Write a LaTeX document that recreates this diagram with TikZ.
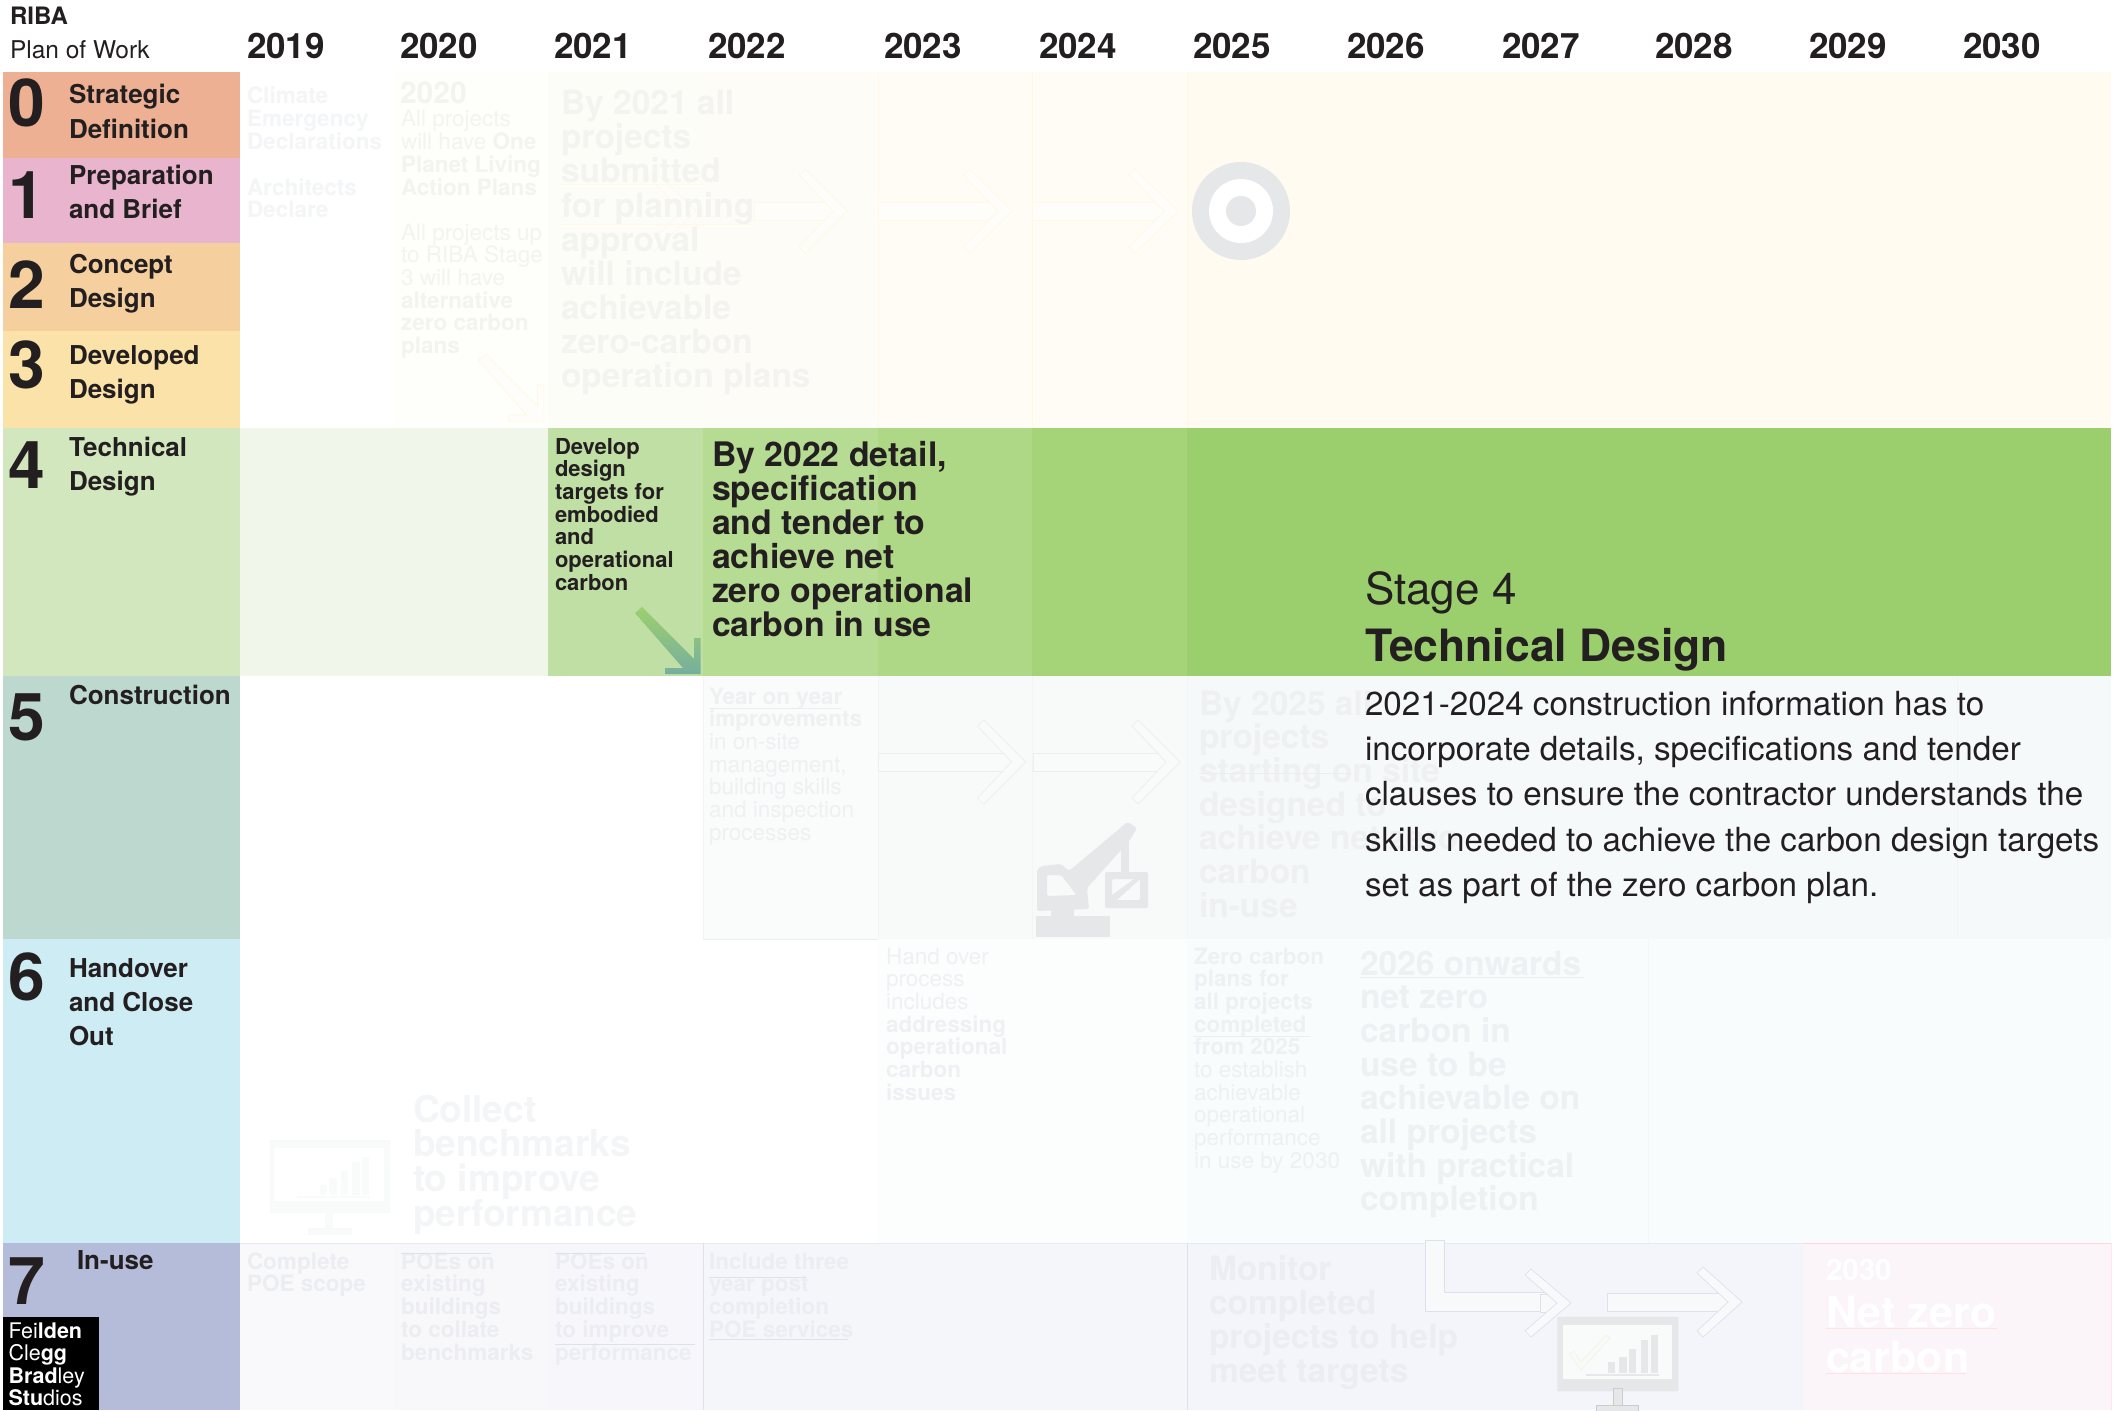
\documentclass[tikz,border=0pt]{standalone}
\usepackage{fontspec}
\setmainfont{TeX Gyre Heros}
\definecolor{ink}{HTML}{231F20}
\definecolor{palea}{HTML}{F4F5F6}
\definecolor{paleb}{HTML}{F3F3F0}
\definecolor{palec}{HTML}{EEF0F1}
\definecolor{paled}{HTML}{EEF1F3}
\definecolor{palee}{HTML}{ECEDF2}
\definecolor{arrowa}{HTML}{FEFDF9}
\definecolor{arrowb}{HTML}{FFF8E4}
\definecolor{arrowc}{HTML}{F9FAFA}
\definecolor{arrowd}{HTML}{EBEEEF}
\definecolor{arrowe}{HTML}{F8F9FB}
\definecolor{arrowf}{HTML}{DDE1EC}
\definecolor{icon}{HTML}{E6E7E9}
\newcommand{\labeltext}[8][]{\node[anchor=base west,inner sep=0pt,outer sep=0pt,text=#7,font=\fontsize{#5}{#6}\selectfont#1] (#2) at (#3,#4) {\vtop{\lineskiplimit=-200pt\let\\\cr\halign{##\hfil\cr#8\crcr}}};}
\newcommand{\band}[5]{\fill[#5] (#1,#2) rectangle (#3,#4);}
\newcommand{\colrule}[4]{\draw[#4,line width=.8pt] (#1,#2) -- (#1,#3);}
\newcommand{\rowrule}[4]{\draw[#4,line width=.8pt] (#1,#3) -- (#2,#3);}
% x0, tip, ymid, half height, dx, fill, line
\newcommand{\chevarrow}[7]{%
\filldraw[fill=#6,draw=#7,line width=.7pt] (#1,#3-9) -- (#2-14,#3-9) -- (#2-14,#3+9) -- (#1,#3+9) -- cycle;
\filldraw[fill=#6,draw=#7,line width=.7pt] (#2,#3) -- (#2-#5,#3-#4) -- (#2-#5-6,#3-#4+6) -- (#2-14,#3) -- (#2-#5-6,#3+#4-6) -- (#2-#5,#3+#4) -- cycle;}
\begin{document}
\begin{tikzpicture}[x=1pt,y=-1pt]
\useasboundingbox (0,0) rectangle (2127,1410);
\fill[white] (0,0) rectangle (2127,1410);
% stage column
\band{3}{72}{240}{158}{fill={rgb,255:red,238;green,176;blue,147}}
\band{3}{158}{240}{243}{fill={rgb,255:red,233;green,180;blue,206}}
\band{3}{243}{240}{331}{fill={rgb,255:red,246;green,207;blue,158}}
\band{3}{331}{240}{428}{fill={rgb,255:red,251;green,226;blue,169}}
\band{3}{428}{240}{676}{fill={rgb,255:red,210;green,231;blue,189}}
\band{3}{676}{240}{939}{fill={rgb,255:red,189;green,216;blue,206}}
\band{3}{939}{240}{1243}{fill={rgb,255:red,206;green,236;blue,244}}
\band{3}{1243}{240}{1410}{fill={rgb,255:red,181;green,188;blue,217}}
% rows 0-3
\band{394}{72}{548}{428}{fill={rgb,255:red,254;green,254;blue,250}}
\band{548}{72}{703}{428}{fill={rgb,255:red,253;green,253;blue,248}}
\band{703}{72}{878}{428}{fill={rgb,255:red,253;green,252;blue,246}}
\band{878}{72}{1187}{428}{fill={rgb,255:red,254;green,252;blue,245}}
\band{1187}{72}{2111}{428}{fill={rgb,255:red,255;green,251;blue,241}}
\colrule{878}{72}{428}{arrowb}
\colrule{1032}{72}{428}{arrowb}
\colrule{1187}{72}{428}{arrowb}
% row 4
\band{240}{428}{548}{676}{fill={rgb,255:red,240;green,246;blue,234}}
\band{548}{428}{703}{676}{fill={rgb,255:red,192;green,223;blue,164}}
\band{703}{428}{878}{676}{fill={rgb,255:red,182;green,219;blue,147}}
\band{878}{428}{1032}{676}{fill={rgb,255:red,175;green,216;blue,134}}
\band{1032}{428}{1187}{676}{fill={rgb,255:red,165;green,211;blue,119}}
\band{1187}{428}{2111}{676}{fill={rgb,255:red,155;green,207;blue,109}}
% row 5
\band{703}{676}{878}{939}{fill={rgb,255:red,250;green,251;blue,251}}
\band{878}{676}{1187}{939}{fill={rgb,255:red,248;green,249;blue,249}}
\band{1187}{676}{2111}{939}{fill={rgb,255:red,246;green,249;blue,249}}
\foreach \c in {703,878,1032,1187,1957}{\colrule{\c}{676}{939}{arrowd!60!white}}
\rowrule{703}{2111}{939}{arrowd}
% row 6
\band{878}{939}{1187}{1243}{fill={rgb,255:red,252;green,254;blue,254}}
\band{1187}{939}{2111}{1243}{fill={rgb,255:red,248;green,252;blue,253}}
\colrule{1648}{939}{1243}{arrowd!50!white}
% row 7
\band{240}{1243}{394}{1410}{fill={rgb,255:red,249;green,249;blue,251}}
\band{394}{1243}{548}{1410}{fill={rgb,255:red,248;green,248;blue,251}}
\band{548}{1243}{703}{1410}{fill={rgb,255:red,247;green,247;blue,251}}
\band{703}{1243}{1187}{1410}{fill={rgb,255:red,245;green,246;blue,250}}
\band{1187}{1243}{1803}{1410}{fill={rgb,255:red,244;green,245;blue,250}}
\band{1803}{1243}{2111}{1410}{fill={rgb,255:red,251;green,244;blue,248}}
\rowrule{240}{1803}{1243}{arrowf!70!white}
\rowrule{1803}{2111}{1243}{pink!60!white}
\colrule{703}{1243}{1410}{arrowf}
\colrule{1187}{1243}{1410}{arrowf}
\colrule{2111}{1243}{1410}{pink!40!white}
% faint arrows rows 0-3
\chevarrow{682}{696}{211}{40}{42}{arrowa}{arrowb}
\chevarrow{754}{847}{211}{42}{42}{arrowa}{arrowb}
\chevarrow{878}{1011.6}{211}{42}{42}{arrowa}{arrowb}
\chevarrow{1032}{1178}{211}{42}{43}{arrowa}{arrowb}
% target
\fill[icon] (1241,211) circle[radius=49];
\fill[white] (1241,211) circle[radius=32];
\fill[icon] (1241,211) circle[radius=15];
% faint diagonal arrow
\filldraw[fill=arrowa,draw=arrowb,line width=.7pt] (486,354) -- (537.5,406) -- (537.5,385) -- (544,385) -- (544,421) -- (508.5,421) -- (508.5,415) -- (526.5,415) -- (478.5,360) -- cycle;
% green arrow
\shade[top color={rgb,255:red,156;green,208;blue,110},bottom color={rgb,255:red,118;green,174;blue,158}] (642,607) -- (694,659) -- (694,638) -- (700.5,638) -- (700.5,674) -- (665,674) -- (665,668) -- (683,668) -- (635,613) -- cycle;
% row 5 arrows
\chevarrow{878}{1025.5}{762}{42}{42}{arrowc}{arrowd}
\chevarrow{1033}{1180}{762}{42}{42}{arrowc}{arrowd}
% crane
\fill[icon] (1036,916) rectangle (1110,937);
\fill[icon] (1051,909) rectangle (1074,917);
\fill[icon,even odd rule,rounded corners=2pt] (1037,870) -- (1041,866) -- (1061,864) -- (1069,871) -- (1127.5,822) -- (1137,828) -- (1130,840) -- (1087,888) -- (1089,909) -- (1037,911) -- cycle (1047,875) -- (1061,875) -- (1076.5,895) -- (1047,896) -- cycle;
\fill[icon] (1121,838) rectangle (1129,873);
\fill[icon,even odd rule,rounded corners=2pt] (1105,872) rectangle (1148,908) (1112,879) rectangle (1140,900);
\fill[icon] (1112,895) -- (1134,879) -- (1140,879) -- (1117,900) -- (1112,900) -- cycle;
% monitor row 6
\fill[arrowc] (270,1140) rectangle (389,1212);
\draw[arrowd!40!white] (270,1140) rectangle (389,1212);
\fill[white] (274,1148) rectangle (384,1201);
\fill[arrowc] (325,1211) rectangle (333,1228);
\fill[arrowc] (308,1228) rectangle (351,1234);
\draw[arrowd!40!white] (308,1228) rectangle (351,1234);
\foreach \a/\b/\t in {320/327/1185,329/337/1178,341/348/1171,352/360/1162,362/369/1157}{\fill[arrowc] (\a,\t) rectangle (\b,1195);}
\fill[arrowc] (297,1196) rectangle (370,1198);
% L arrow and arrow row 7
\filldraw[fill=arrowe,draw=arrowf,line width=.7pt] (1425,1240) -- (1444,1240) -- (1444,1292) -- (1557,1292) -- (1557,1311) -- (1425,1311) -- cycle;
\chevarrow{1540}{1571}{1303}{34}{40}{arrowe}{arrowf}
\chevarrow{1607}{1742}{1302}{35}{39}{arrowe}{arrowf}
% monitor row 7
\filldraw[fill=icon,draw=arrowf,rounded corners=1pt] (1557.5,1317) rectangle (1678,1391);
\fill[arrowc] (1563,1325) rectangle (1672,1379);
\filldraw[fill=icon,draw=gray!40] (1613.5,1388) rectangle (1622,1405);
\filldraw[fill=icon,draw=gray!40] (1596,1405) rectangle (1638,1412);
\foreach \a/\b/\t in {1608/1615/1362,1619/1627/1357,1629/1636/1349,1641/1648/1340,1651/1658/1335}{\fill[icon] (\a,\t) rectangle (\b,1373);}
\fill[icon] (1586,1374) rectangle (1659,1376);
\filldraw[fill={rgb,255:red,248;green,250;blue,245},draw={rgb,255:red,238;green,242;blue,232},line width=.5pt] (1569,1354) -- (1574,1351) -- (1581,1362) -- (1606,1335) -- (1610,1338) -- (1581,1370) -- cycle;
% pale text
\labeltext[\bfseries]{tClimate}{247}{104}{22.5}{22.7}{palea}{Climate\\Emergency\\Declarations}
\labeltext[\bfseries]{tArch}{247}{195}{22.5}{22.7}{palea}{Architects\\Declare}
\labeltext[\bfseries]{t2020a}{400}{104}{30}{30}{paleb}{2020}
\labeltext{t2020b}{401}{127}{22.5}{22.7}{paleb}{All projects\\will have \textbf{One}\\\textbf{Planet Living}\\\textbf{Action Plans}}
\labeltext{t2020c}{401}{240}{22.5}{22.7}{paleb}{All projects up\\to RIBA Stage\\3 will have\\\textbf{alternative}\\\textbf{zero carbon}\\\textbf{plans}}
\labeltext[\bfseries]{t2021}{561}{115}{33.5}{34}{paleb}{By 2021 all\\projects\\submitted\\for planning\\approval\\will include\\achievable\\zero-carbon\\operation plans}
\labeltext{tYear}{709}{704}{22.5}{22.7}{palec}{\textbf{Year on year}\\\textbf{improvements}\\in on-site\\management,\\building skills\\and inspection\\processes}
\labeltext[\bfseries]{t2025}{1199}{715}{33.5}{33.7}{palec}{By 2025 all\\projects\\starting on site\\designed to\\achieve net zero\\carbon\\in-use}
\labeltext{tHand}{886}{964}{22.5}{22.7}{paled}{Hand over\\process\\includes\\\textbf{addressing}\\\textbf{operational}\\\textbf{carbon}\\\textbf{issues}}
\labeltext{tZero}{1194}{964}{22.5}{22.7}{paled}{\textbf{Zero carbon}\\\textbf{plans for}\\\textbf{all projects}\\\textbf{completed}\\\textbf{from 2025}\\to establish\\achievable\\operational\\performance\\in use by 2030}
\labeltext[\bfseries]{t2026}{1360}{975}{33.5}{33.7}{paled}{2026 onwards\\net zero\\carbon in\\use to be\\achievable on\\all projects\\with practical\\completion}
\labeltext[\bfseries]{tCollect}{413}{1122}{37}{34.7}{palea}{Collect\\benchmarks\\to improve\\performance}
\labeltext[\bfseries]{tPOE}{247}{1269}{22.5}{22.9}{palee}{Complete\\POE scope}
\labeltext[\bfseries]{tPOEa}{401}{1269}{22.5}{22.8}{palee}{POEs on\\existing\\buildings\\to collate\\benchmarks}
\labeltext[\bfseries]{tPOEb}{555}{1269}{22.5}{22.8}{palee}{POEs on\\existing\\buildings\\to improve\\performance}
\labeltext[\bfseries]{tPOEc}{709}{1269}{22.5}{22.8}{palee}{Include three\\year post\\completion\\POE services}
\labeltext[\bfseries]{tMonitor}{1209}{1280}{33.5}{34}{palee}{Monitor\\completed\\projects to help\\meet targets}
\labeltext[\bfseries]{t2030}{1826}{1280}{29.5}{30}{white}{2030}
\labeltext[\bfseries]{tNet}{1826}{1327}{43}{45}{white}{Net zero\\carbon}
% faint rules beside the pale text
\rowrule{709}{841}{708}{arrowd}
\rowrule{1826}{1997}{1328}{pink!45!white}
\rowrule{1826}{1966}{1373}{pink!45!white}
\rowrule{555}{695}{1344}{arrowf}
\rowrule{709}{806}{1277}{arrowf}
\rowrule{709}{848}{1339}{arrowf}
\rowrule{401}{491}{1253}{arrowf}
\rowrule{555}{645}{1253}{arrowf}
\rowrule{561}{754}{224}{arrowb}
\rowrule{561}{706}{184}{arrowb}
\rowrule{1199}{1350}{773}{arrowd}
\rowrule{1360}{1584}{977}{arrowd}
\rowrule{1194}{1310}{1036}{arrowd}
% header
\labeltext[\bfseries]{hRIBA}{10}{25}{24}{24}{ink}{RIBA}
\labeltext{hPlan}{10}{59}{24.5}{24}{ink}{Plan of Work}
\foreach \yr/\xx in {2019/247,2020/400,2021/554,2022/708,2023/884,2024/1039,2025/1193,2026/1347,2027/1502,2028/1655,2029/1809,2030/1963}{
  \labeltext[\bfseries]{y\yr}{\xx}{59}{35}{35}{ink}{\yr}}
% stage numbers and names
\foreach \n/\b in {0/127,1/218,2/308,3/388,4/488,5/740,6/1000,7/1304}{
  \labeltext[\bfseries]{n\n}{9}{\b}{66}{66}{ink}{\n}}
\labeltext[\bfseries]{s0}{69}{104}{26}{34.5}{ink}{Strategic\\Definition}
\labeltext[\bfseries]{s1}{69}{184}{26}{34.5}{ink}{Preparation\\and Brief}
\labeltext[\bfseries]{s2}{69}{273}{26}{34.5}{ink}{Concept\\Design}
\labeltext[\bfseries]{s3}{69}{364}{26}{34.5}{ink}{Developed\\Design}
\labeltext[\bfseries]{s4}{69}{456}{26}{34.5}{ink}{Technical\\Design}
\labeltext[\bfseries]{s5}{69}{704}{26}{34.5}{ink}{Construction}
\labeltext[\bfseries]{s6}{69}{977}{26}{34}{ink}{Handover\\and Close\\Out}
\labeltext[\bfseries]{s7}{77}{1269}{26}{34}{ink}{In-use}
% logo
\fill[black] (3,1317) rectangle (99,1410);
\labeltext{logo}{8.6}{1338}{21.5}{22.6}{white}{Fei\textbf{lden}\\Cle\textbf{gg}\\\textbf{Brad}ley\\\textbf{Stu}dios}
% dark text on row 4
\labeltext[\bfseries]{tDevelop}{555}{454}{22}{22.7}{ink}{Develop\\design\\targets for\\embodied\\and\\operational\\carbon}
\labeltext[\bfseries]{t2022}{712}{466}{33.8}{34}{ink}{By 2022 detail,\\specification\\and tender to\\achieve net\\zero operational\\carbon in use}
\labeltext{tStage}{1365}{604}{44}{44}{ink}{Stage 4}
\labeltext[\bfseries]{tTech}{1365}{661}{44.5}{44.5}{ink}{Technical Design}
\labeltext{tPara}{1365}{715.5}{33.2}{45.2}{ink}{2021-2024 construction information has to\\incorporate details, specifications and tender\\clauses to ensure the contractor understands the\\skills needed to achieve the carbon design targets\\set as part of the zero carbon plan.}
\end{tikzpicture}
\end{document}
